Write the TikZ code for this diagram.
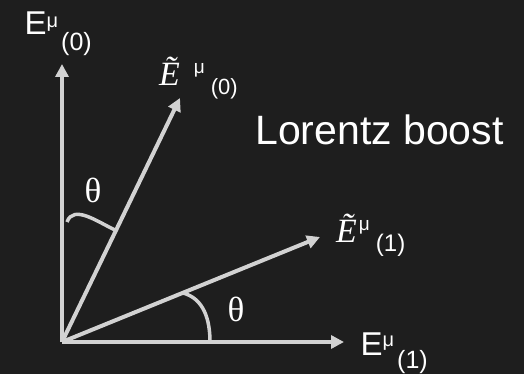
\documentclass[tikz,border=0pt]{standalone}
\usepackage{fontspec}
\setmainfont{Liberation Sans}
\newfontfamily\thetafont{Liberation Serif}
\usepackage{xcolor}
\usetikzlibrary{arrows.meta}
\definecolor{board}{HTML}{1E1E1E}
\definecolor{chalk}{HTML}{D2D2D2}
\newcommand{\supmu}[2]{\raisebox{#1}{\fontsize{#2}{#2}\selectfont μ}}
\newcommand{\subidx}[3]{\raisebox{#1}{\fontsize{#2}{#2}\selectfont #3}}
\newcommand{\tildeE}[1]{{\thetafont\itshape\fontsize{#1}{#1}\selectfont Ẽ}}
\begin{document}
\begin{tikzpicture}[x=1pt, y=1pt, >={Triangle[length=13pt,width=13pt]},
    vec/.style={->, chalk, line width=4pt},
    angarc/.style={chalk, line width=3.5pt},
    lbl/.style={text=white, inner sep=0pt, anchor=base west},
    ang/.style={text=white, inner sep=0pt, font=\thetafont\fontsize{35}{35}\selectfont}]
  \fill[board] (0,0) rectangle (524,374);
  \useasboundingbox (0,0) rectangle (524,374);

  \coordinate (O) at (62,32);
  \coordinate (E0) at (62,310);
  \coordinate (E1) at (344,32);
  \coordinate (T0) at (180,276);
  \coordinate (T1) at (320,137);

  \draw[vec] (O) -- (E0);
  \draw[vec] (O) -- (E1);
  \draw[vec] (O) -- (T0);
  \draw[vec] (O) -- (T1);

  % angle marks
  \coordinate (a0) at (67,152);
  \coordinate (b0) at (115,144);
  \coordinate (a1) at (183,81);
  \coordinate (b1) at (210,32);
  \draw[angarc] (a0) to[out=70, in=155] (b0);
  \draw[angarc] (a1) to[out=-15, in=90] (b1);
  \node[ang] (th0) at (93,183.5) {θ};
  \node[ang] (th1) at (236,65) {θ};

  \node[lbl, font=\fontsize{33}{33}\selectfont] (e0) at (24.5,339)
    {E\supmu{7pt}{20}\kern3pt\subidx{-16pt}{25}{(0)}};
  \node[lbl, font=\fontsize{33}{33}\selectfont] (e1) at (360.5,18)
    {E\supmu{9pt}{20}\kern3pt\subidx{-13pt}{25}{(1)}};
  \node[lbl] (t0) at (159,288)
    {\tildeE{34}\kern14pt\supmu{12pt}{19}\kern6pt\subidx{-9pt}{22}{(0)}};
  \node[lbl] (t1) at (336,131)
    {\tildeE{34}\kern2pt\supmu{12pt}{19}\kern6pt\subidx{-9pt}{24}{(1)}};
  \node[lbl, font=\fontsize{41}{41}\selectfont] (boost) at (255,229) {Lorentz boost};
\end{tikzpicture}
\end{document}
